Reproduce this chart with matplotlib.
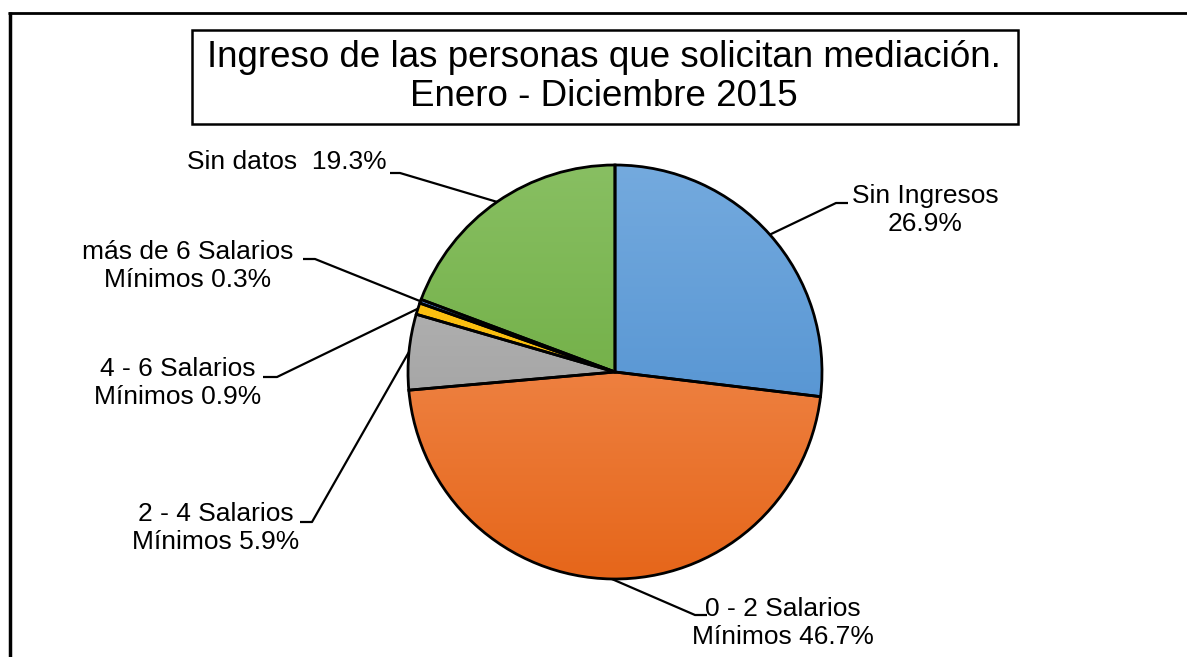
import numpy as np
import matplotlib
matplotlib.use("Agg")
import matplotlib.pyplot as plt
from matplotlib.patches import Rectangle
from matplotlib.colors import LinearSegmentedColormap

plt.rcParams['font.family'] = ['Liberation Sans', 'DejaVu Sans']

# income groups and shares (%)
categorias = ['Sin Ingresos', '0 - 2 Salarios', '2 - 4 Salarios',
              '4 - 6 Salarios', 'más de 6 Salarios', 'Sin datos']
porcentajes = [26.9, 46.7, 5.9, 0.9, 0.3, 19.3]
etiquetas = ['Sin Ingresos\n{:.1f}%',
             '0 - 2 Salarios\nMínimos {:.1f}%',
             '2 - 4 Salarios\nMínimos {:.1f}%',
             '4 - 6 Salarios\nMínimos {:.1f}%',
             'más de 6 Salarios\nMínimos {:.1f}%',
             'Sin datos  {:.1f}%']
titulo = 'Ingreso de las personas que solicitan mediación.\nEnero - Diciembre 2015'

# (light top, dark bottom) for each slice
colores = [('#74aade', '#4488cc'),
           ('#f59a66', '#e6661a'),
           ('#bcbcbc', '#959595'),
           ('#ffc61a', '#f5b400'),
           ('#5a86d0', '#3a66b8'),
           ('#88bf62', '#62a433')]

W, H = 1187, 657
fig = plt.figure(figsize=(W / 100, H / 100), dpi=100)
ax = fig.add_axes([0, 0, 1, 1])
ax.set_axis_off()


def py(y):
    # pixel rows run downward
    return H - y


cx, cy, r = 615, py(372), 207

wedges, _ = ax.pie(porcentajes, startangle=90, counterclock=False,
                   center=(cx, cy), radius=r, frame=True,
                   wedgeprops=dict(edgecolor='black', linewidth=2.0,
                                   facecolor='none'))

grad = np.linspace(0, 1, 256)[:, None]
for w, (c1, c2) in zip(wedges, colores):
    cmap = LinearSegmentedColormap.from_list('g', [c1, c2])
    im = ax.imshow(grad, cmap=cmap, extent=[cx - r, cx + r, cy - r, cy + r],
                   origin='upper', aspect='auto', zorder=0.5)
    im.set_clip_path(w)
    w.set_zorder(1)

# label layout: elbow point, end of short horizontal, text centre, alignment
layout = [
    ((836, 203), (848, 203), (925, 210), 'center'),
    ((695, 615), (707, 615), (783, 623), 'center'),
    ((312, 522), (300, 522), (216, 528), 'center'),
    ((277, 377), (263, 377), (178, 383), 'center'),
    ((315, 259), (303, 259), (188, 266), 'center'),
    ((400, 173), (390, 173), (387, 162), 'right'),
]

for w, val, fmt, (elbow, end, txt, ha) in zip(wedges, porcentajes, etiquetas, layout):
    ang = np.deg2rad((w.theta1 + w.theta2) / 2)
    ax_, ay_ = cx + r * np.cos(ang), cy + r * np.sin(ang)
    ax.plot([ax_, elbow[0], end[0]], [ay_, py(elbow[1]), py(end[1])],
            color='black', lw=1.6, zorder=2, solid_capstyle='butt')
    ax.text(txt[0], py(txt[1]), fmt.format(val), ha=ha, va='center',
            multialignment='center', fontsize=19, linespacing=1.2)

# title box
ax.add_patch(Rectangle((192, py(124)), 826, 94, facecolor='white',
                       edgecolor='black', lw=1.8, zorder=3))
ax.text(604, py(77), titulo, ha='center', va='center', fontsize=26.5,
        linespacing=1.15, zorder=4)

# outer chart frame (top and left edges)
ax.plot([8.3, W], [py(12.5), py(12.5)], color='black', lw=2, zorder=3,
        solid_capstyle='butt')
ax.plot([9.5, 9.5], [py(11.6), py(H + 5)], color='black', lw=2.5, zorder=3,
        solid_capstyle='butt')

ax.set_xlim(0, W)
ax.set_ylim(0, H)
ax.set_aspect('auto')

fig.savefig('out.png', dpi=100)
